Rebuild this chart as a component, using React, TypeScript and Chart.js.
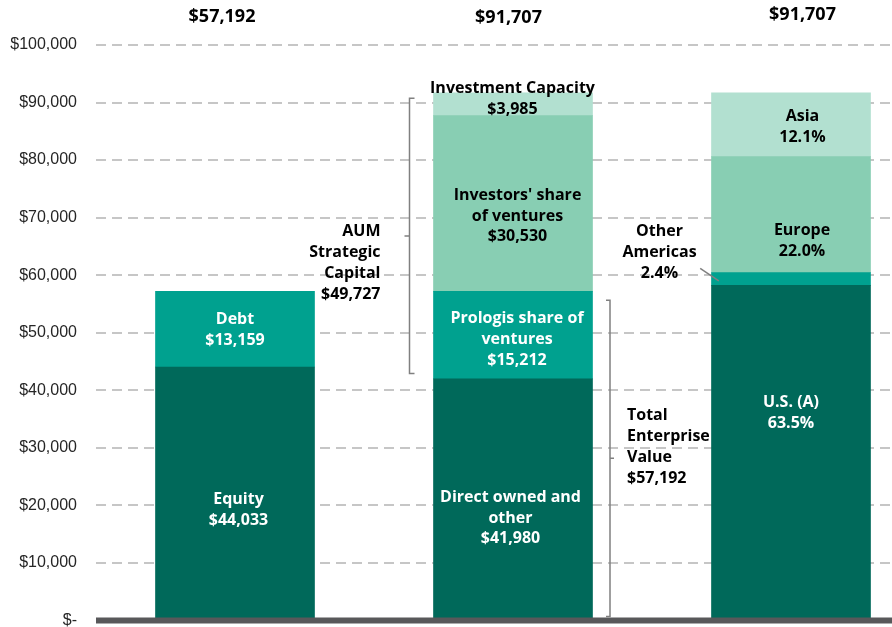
import React, { useEffect, useRef } from 'react';
import { Chart, registerables } from 'chart.js';

Chart.register(...registerables);

// ---------- data ----------
const CATEGORIES = ['Balance sheet', 'Assets under management', 'Geography'];
const LAYER_BASE = [44033, 41980, 58234];
const LAYER_SECOND = [13159, 15212, 2201];
const LAYER_THIRD = [null, 30530, 20175];
const LAYER_TOP = [null, 3985, 11097];
const TOTALS = [57192, 91707, 91707];

const BASE_LABELS = [['Equity', '$44,033'], ['Direct owned and', 'other', '$41,980'], ['U.S. (A)', '63.5%']];
const SECOND_LABELS = [['Debt', '$13,159'], ['Prologis share of', 'ventures', '$15,212'], null];
const THIRD_LABELS = [null, ["Investors' share", 'of ventures', '$30,530'], ['Europe', '22.0%']];
const TOP_LABELS = [null, ['Investment Capacity', '$3,985'], ['Asia', '12.1%']];
const AUM_LABEL = ['AUM', 'Strategic', 'Capital', '$49,727'];
const TEV_LABEL = ['Total', 'Enterprise', 'Value', '$57,192'];
const OTHER_AMERICAS_LABEL = ['Other', 'Americas', '2.4%'];

// ---------- styles ----------
const COLORS = ['#00695a', '#00a18f', '#88ceb3', '#b2e0d0'];
const TEXT_COLORS = ['#ffffff', '#ffffff', '#000000', '#000000'];
const LABEL_FONT = 'bold 16px "Open Sans", "Noto Sans", sans-serif';
const TOTAL_FONT = 'bold 18px "Open Sans", "Noto Sans", sans-serif';
const LINE_H = 20.8;
// [dx, dy] nudges from segment centre, per layer, per bar
const NUDGES = [
  [[3.5, 17], [-2.5, 19], [0, -39.6]],
  [[0, 1], [4, 4.4], null],
  [null, [4.5, 12.6], [11, 26]],
  [null, [-0.5, -5], [11.5, 2.4]],
];
const TOTAL_NUDGES = [[-13, -28.3], [-4.5, -26.7], [11.5, -30]];

function fmtMoney(v: number) {
  if (v === 0) return '$-';
  return '$' + v.toLocaleString('en-US');
}

function drawLines(ctx: CanvasRenderingContext2D, lines: string[], x: number, cy: number, align: CanvasTextAlign) {
  ctx.textAlign = align;
  ctx.textBaseline = 'middle';
  const n = lines.length;
  lines.forEach((t, i) => {
    ctx.fillText(t, x, cy + (i - (n - 1) / 2) * LINE_H);
  });
}

const annotations = {
  id: 'annotations',
  afterDatasetsDraw(chart: any) {
    const ctx: CanvasRenderingContext2D = chart.ctx;
    const area = chart.chartArea;
    const yScale = chart.scales.y;
    ctx.save();

    // thick category axis line
    ctx.strokeStyle = '#58585a';
    ctx.lineWidth = 6;
    ctx.beginPath();
    const y0 = yScale.getPixelForValue(0);
    ctx.moveTo(area.left, y0);
    ctx.lineTo(area.right, y0);
    ctx.stroke();

    const layerLabels = [BASE_LABELS, SECOND_LABELS, THIRD_LABELS, TOP_LABELS];
    ctx.font = LABEL_FONT;
    layerLabels.forEach((labels, li) => {
      const meta = chart.getDatasetMeta(li);
      labels.forEach((lines, bi) => {
        if (!lines) return;
        const el: any = meta.data[bi];
        const nudge = NUDGES[li][bi] || [0, 0];
        const cy = (el.y + el.base) / 2 + nudge[1];
        ctx.fillStyle = TEXT_COLORS[li];
        drawLines(ctx, lines, el.x + nudge[0], cy, 'center');
      });
    });

    // totals on top
    ctx.font = TOTAL_FONT;
    ctx.fillStyle = '#000000';
    const baseMeta = chart.getDatasetMeta(0);
    TOTALS.forEach((t, i) => {
      const el: any = baseMeta.data[i];
      drawLines(ctx, [fmtMoney(t)], el.x + TOTAL_NUDGES[i][0], area.top + TOTAL_NUDGES[i][1], 'center');
    });

    ctx.font = LABEL_FONT;
    ctx.strokeStyle = '#808080';
    ctx.lineWidth = 1.5;

    // AUM bracket around bar 2 layers 2..4
    {
      const el2: any = chart.getDatasetMeta(1).data[1];
      const top: any = chart.getDatasetMeta(3).data[1];
      const x = el2.x - el2.width / 2 - 24;
      const yTop = top.y + 5.6;
      const yBot = el2.base - 5.3;
      const yMid = (yTop + yBot) / 2;
      ctx.beginPath();
      ctx.moveTo(x + 5, yTop);
      ctx.lineTo(x, yTop);
      ctx.lineTo(x, yBot);
      ctx.lineTo(x + 5, yBot);
      ctx.moveTo(x, yMid);
      ctx.lineTo(x - 5, yMid);
      ctx.stroke();
      ctx.fillStyle = '#000000';
      drawLines(ctx, AUM_LABEL, x - 29, yMid + 27, 'right');
    }

    // Total enterprise value bracket, bar 2 layers 1..2
    {
      const el1: any = chart.getDatasetMeta(0).data[1];
      const el2: any = chart.getDatasetMeta(1).data[1];
      const x = el1.x + el1.width / 2 + 17.5;
      const yTop = el2.y + 9;
      const yBot = el1.base - 3;
      const yMid = (yTop + yBot) / 2;
      ctx.beginPath();
      ctx.moveTo(x - 4, yTop);
      ctx.lineTo(x, yTop);
      ctx.lineTo(x, yBot);
      ctx.lineTo(x - 4, yBot);
      ctx.moveTo(x, yMid);
      ctx.lineTo(x + 4, yMid);
      ctx.stroke();
      ctx.fillStyle = '#000000';
      drawLines(ctx, TEV_LABEL, x + 17, yMid - 11.5, 'left');
    }

    // Other Americas callout
    {
      const el: any = chart.getDatasetMeta(1).data[2];
      const left = el.x - el.width / 2;
      const cy = (el.y + el.base) / 2;
      ctx.beginPath();
      ctx.moveTo(left - 11.3, cy - 10.5);
      ctx.lineTo(left + 7.3, cy + 1.9);
      ctx.stroke();
      ctx.fillStyle = '#000000';
      drawLines(ctx, OTHER_AMERICAS_LABEL, left - 52, cy - 26.3, 'center');
    }

    ctx.restore();
  },
};

export default function App() {
  const ref = useRef<HTMLCanvasElement | null>(null);

  useEffect(() => {
    if (!ref.current) return;
    const layers = [LAYER_BASE, LAYER_SECOND, LAYER_THIRD, LAYER_TOP];
    const chart = new Chart(ref.current, {
      type: 'bar',
      data: {
        labels: CATEGORIES,
        datasets: layers.map((d, i) => ({
          label: 'layer' + i,
          data: d as any,
          backgroundColor: COLORS[i],
          borderWidth: 0,
          barThickness: 159,
        })),
      },
      options: {
        responsive: false,
        animation: false,
        devicePixelRatio: 1,
        layout: { padding: { top: 45, bottom: 7, left: 0, right: 0 } },
        plugins: {
          legend: { display: false },
          tooltip: { enabled: false },
        },
        scales: {
          x: {
            stacked: true,
            display: false,
          },
          y: {
            stacked: true,
            min: 0,
            max: 100000,
            afterFit: (scale: any) => {
              scale.width = 96;
            },
            ticks: {
              stepSize: 10000,
              padding: 19,
              color: '#262626',
              font: { family: '"Liberation Sans", Arial, sans-serif', size: 16 },
              callback: (v: any) => fmtMoney(Number(v)),
            },
            grid: {
              color: '#c6c6c6',
              lineWidth: 2,
              drawTicks: false,
            },
            border: { display: false, dash: [10, 6] },
          },
        },
      },
      plugins: [annotations],
    });
    return () => chart.destroy();
  }, []);

  return (
    <div style={{ position: 'fixed', left: 0, top: 0, width: 892, height: 627, overflow: 'hidden', background: '#fff' }}>
      <canvas ref={ref} width={930} height={649} style={{ display: 'block' }} />
    </div>
  );
}
